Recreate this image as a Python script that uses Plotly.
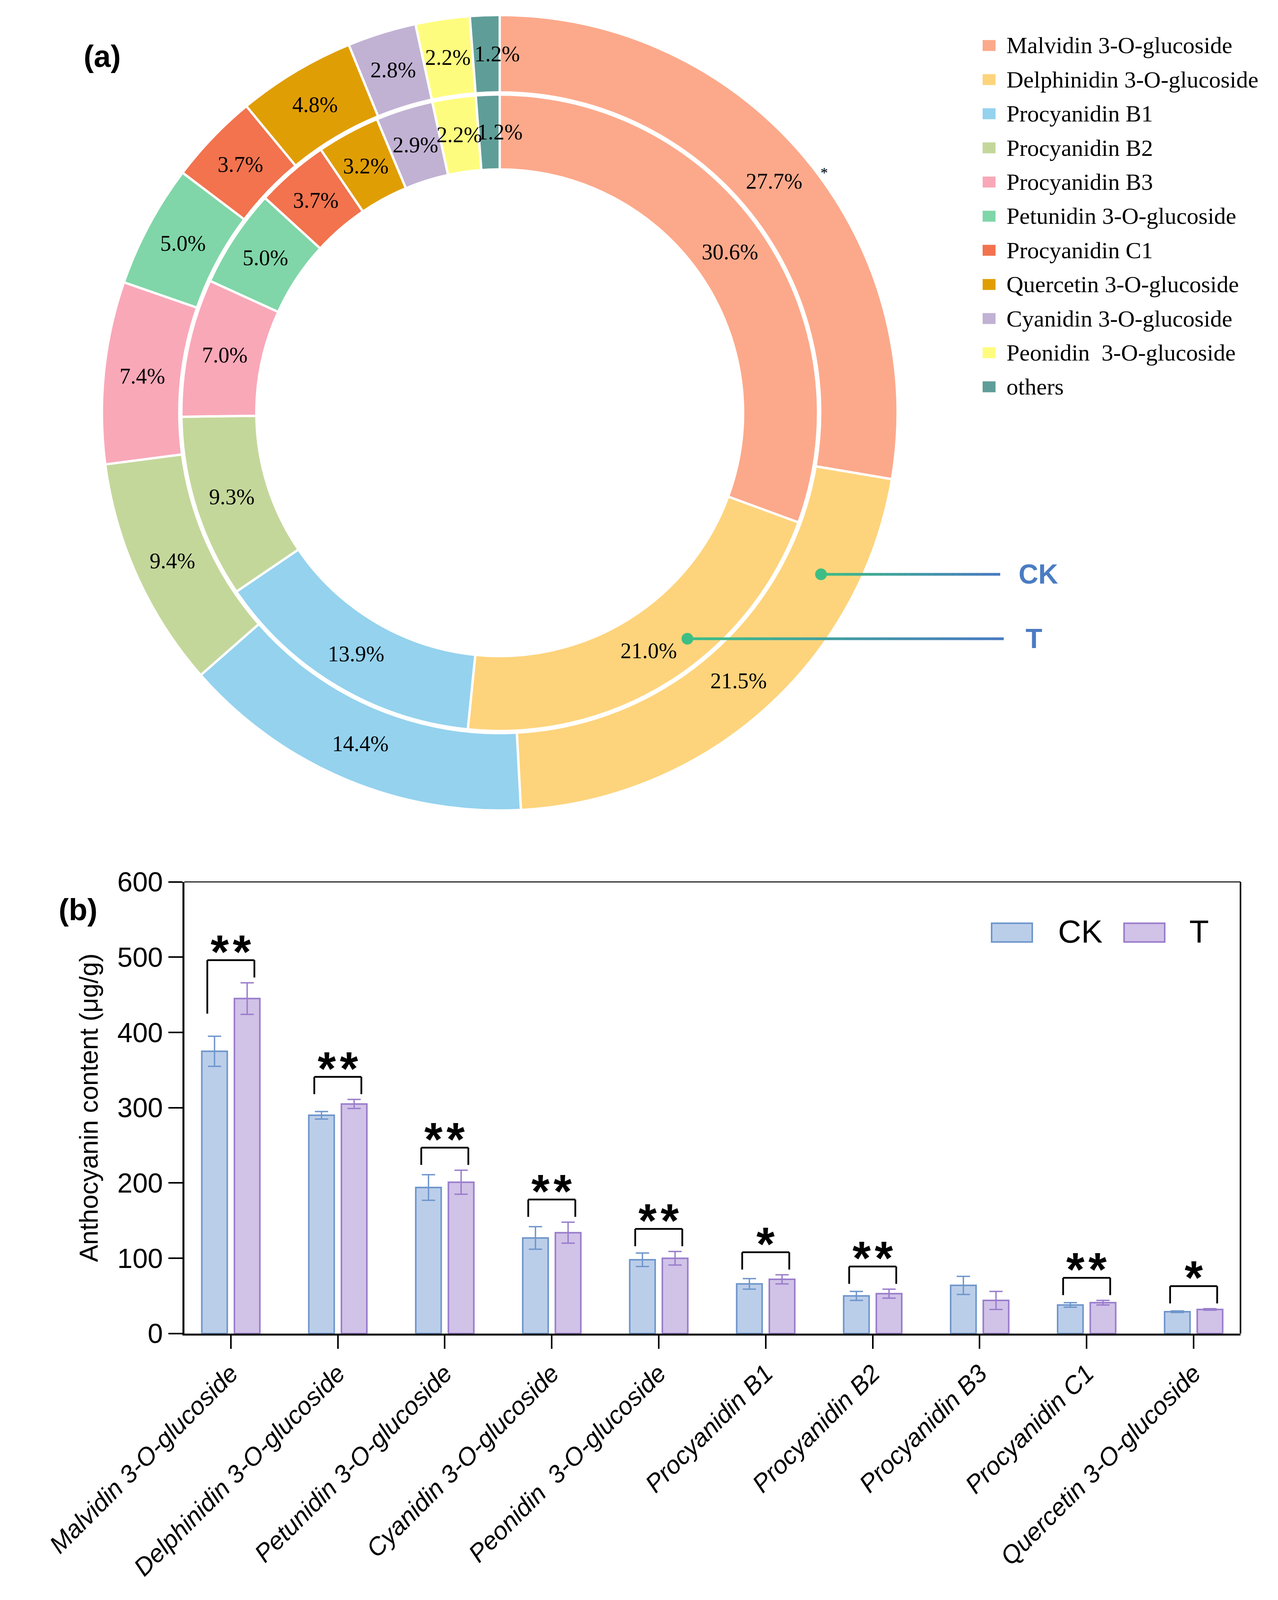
import math
import plotly.graph_objects as go

# The reference is 3271x4570; the visible page area here is ~3271x4096,
# so vertical positions are expressed as fractions of the reference height.
W = 3271
H_REF = 4570
H = 4096
SY = H / H_REF

# ---------------- data ----------------
pie_labels = ["Malvidin 3-O-glucoside", "Delphinidin 3-O-glucoside", "Procyanidin B1",
              "Procyanidin B2", "Procyanidin B3", "Petunidin 3-O-glucoside", "Procyanidin C1",
              "Quercetin 3-O-glucoside", "Cyanidin 3-O-glucoside", "Peonidin\u00a0 3-O-glucoside",
              "others"]
pie_ck = [27.7, 21.5, 14.4, 9.4, 7.4, 5.0, 3.7, 4.8, 2.8, 2.2, 1.2]
pie_t = [30.6, 21.0, 13.9, 9.3, 7.0, 5.0, 3.7, 3.2, 2.9, 2.2, 1.2]
pie_colors = ["#FCA98B", "#FDD47C", "#94D2EE", "#C4D79B", "#F9A8B8", "#80D6A8",
              "#F2734E", "#E09E05", "#C1B2D4", "#FEFC7E", "#5F9E98"]

bar_categories = ["Malvidin 3-O-glucoside", "Delphinidin 3-O-glucoside", "Petunidin 3-O-glucoside",
                  "Cyanidin 3-O-glucoside", "Peonidin\u00a0 3-O-glucoside", "Procyanidin B1",
                  "Procyanidin B2", "Procyanidin B3", "Procyanidin C1", "Quercetin 3-O-glucoside"]
ck_mean = [375, 290, 194, 127, 98, 66, 50, 64, 38, 29]
ck_err = [20, 5, 17, 15, 9, 7, 6, 12, 3, 1]
t_mean = [445, 305, 201, 134, 100, 72, 53, 44, 41, 32]
t_err = [21, 6, 16, 14, 9, 6, 6, 12, 3, 1]
significance = ["**", "**", "**", "**", "**", "*", "**", "", "**", "*"]
series_names = ["CK", "T"]
y_ticks = [0, 100, 200, 300, 400, 500, 600]

# ---------------- helpers ----------------
def px(x):
    return x / W

def py(y_ref):          # y given in reference pixels
    return 1 - y_ref / H_REF

def pya(y_act):         # y given in actual pixels
    return 1 - y_act / H

SERIF = "Liberation Serif, Times New Roman, serif"
SANS = "Liberation Sans, Arial, sans-serif"

fig = go.Figure()
shapes = []
annotations = []

# ---------------- (a) donut ----------------
cx, cy = 1271, 1170 * SY
R_out, r_out_hole = 1136 * SY, 915 * SY
R_in, r_in_hole = 909 * SY, 695 * SY

def add_ring(values, R, r_hole, name):
    fig.add_trace(go.Pie(
        labels=pie_labels, values=values, name=name,
        domain=dict(x=[px(cx - R), px(cx + R)], y=[pya(cy + R), pya(cy - R)]),
        hole=r_hole / R, sort=False, direction="clockwise", rotation=0,
        marker=dict(colors=pie_colors, line=dict(color="white", width=6)),
        textinfo="none", hoverinfo="label+percent", showlegend=False,
    ))
    rm = (R + r_hole) / 2
    cum = 0
    total = sum(values)
    for lab, v in zip(pie_labels, values):
        ang = 2 * math.pi * (cum + v / 2) / total
        cum += v
        x = cx + rm * math.sin(ang)
        y = cy - rm * math.cos(ang)
        annotations.append(dict(
            x=px(x), y=pya(y), xref="paper", yref="paper", showarrow=False,
            text=f"{v:.1f}%", font=dict(family=SERIF, size=56, color="black"),
            xanchor="center", yanchor="middle",
            xshift=28 if lab == "others" else 0,
        ))

add_ring(pie_ck, R_out, r_out_hole, "CK")
add_ring(pie_t, R_in, r_in_hole, "T")

def polar(r, deg):
    a = math.radians(deg)
    return cx + r * math.sin(a), cy - r * math.cos(a)

# stray asterisk near the outer ring
sx_, sy_ = polar(1168 * SY, 52.5)
annotations.append(dict(x=px(sx_), y=pya(sy_), xref="paper", yref="paper", showarrow=False,
                        text="*", font=dict(family=SERIF, size=38, color="black")))

# panel labels
annotations.append(dict(x=px(204), y=py(100), xref="paper", yref="paper", showarrow=False,
                        text="<b>(a)</b>", font=dict(family=SANS, size=78, color="black")))
annotations.append(dict(x=px(140), y=py(2590), xref="paper", yref="paper", showarrow=False,
                        text="<b>(b)</b>", font=dict(family=SANS, size=78, color="black")))

# pie legend
leg_x0, leg_y0, leg_dy = 2507, 121, 97.5
for i, (lab, col) in enumerate(zip(pie_labels, pie_colors)):
    yc = leg_y0 + i * leg_dy
    shapes.append(dict(type="rect", xref="paper", yref="paper",
                       x0=px(leg_x0), x1=px(leg_x0 + 33), y0=py(yc) - 14 / H, y1=py(yc) + 14 / H,
                       fillcolor=col, line=dict(width=0)))
    annotations.append(dict(x=px(2566), y=py(yc), xref="paper", yref="paper", showarrow=False,
                            text=lab, xanchor="left", yanchor="middle",
                            font=dict(family=SERIF, size=60, color="black")))

# CK / T callouts with gradient lines
def callout(r, deg, x_end, x_text, label):
    x0, y = polar(r, deg)
    n = 30
    c0 = (61, 190, 132)
    c1 = (74, 122, 194)
    for k in range(n):
        f = (k + 0.5) / n
        col = tuple(int(c0[j] + (c1[j] - c0[j]) * f) for j in range(3))
        xa = x0 + (x_end - x0) * k / n
        xb = x0 + (x_end - x0) * (k + 1) / n + 1
        shapes.append(dict(type="line", xref="paper", yref="paper",
                           x0=px(xa), x1=px(xb), y0=pya(y), y1=pya(y),
                           line=dict(color="rgb(%d,%d,%d)" % col, width=7)))
    shapes.append(dict(type="circle", xref="paper", yref="paper",
                       x0=px(x0 - 15), x1=px(x0 + 15), y0=pya(y + 15), y1=pya(y - 15),
                       fillcolor="rgb(61,190,132)", line=dict(width=0)))
    annotations.append(dict(x=px(x_text), y=pya(y), xref="paper", yref="paper", showarrow=False,
                            text="<b>" + label + "</b>", xanchor="left", yanchor="middle",
                            font=dict(family=SANS, size=70, color="#4A7CC2")))

callout(1027 * SY, 116.7, 2551, 2597, series_names[0])
callout(839 * SY, 140.3, 2560, 2615, series_names[1])

# ---------------- (b) bar chart ----------------
ck_fill, ck_line = "#BBCEE9", "#6F96CC"
t_fill, t_line = "#D1C2E8", "#9A7DCB"

fig.add_trace(go.Bar(
    x=bar_categories, y=ck_mean, name=series_names[0],
    marker=dict(color=ck_fill, line=dict(color=ck_line, width=4)),
    error_y=dict(type="data", array=ck_err, color=ck_line, thickness=3.5, width=17),
    xaxis="x", yaxis="y", showlegend=False,
))
fig.add_trace(go.Bar(
    x=bar_categories, y=t_mean, name=series_names[1],
    marker=dict(color=t_fill, line=dict(color=t_line, width=4)),
    error_y=dict(type="data", array=t_err, color=t_line, thickness=3.5, width=17),
    xaxis="x", yaxis="y", showlegend=False,
))

# significance brackets
for i, s in enumerate(significance):
    if not s:
        continue
    a_top = ck_mean[i] + ck_err[i]
    b_top = t_mean[i] + t_err[i]
    top = max(a_top, b_top) + 30
    left_bottom = min(top - 23, a_top + 30)
    right_bottom = min(top - 23, b_top + 30)
    xl, xr = i - 0.22, i + 0.22
    for (xa, ya, xb, yb) in [(xl, left_bottom, xl, top), (xl, top, xr, top), (xr, top, xr, right_bottom)]:
        shapes.append(dict(type="line", xref="x", yref="y", x0=xa, y0=ya, x1=xb, y1=yb,
                           line=dict(color="black", width=4.5)))
    annotations.append(dict(x=i, y=top, xref="x", yref="y", showarrow=False, yshift=22,
                            text="<b>" + "\u200a".join(s) + "</b>", xanchor="center", yanchor="middle",
                            font=dict(family=SANS, size=120, color="black")))

# frame top & right
shapes.append(dict(type="line", xref="x domain", yref="y domain", x0=0, x1=1, y0=1, y1=1,
                   line=dict(color="black", width=2.5)))
shapes.append(dict(type="line", xref="x domain", yref="y domain", x0=1, x1=1, y0=0, y1=1,
                   line=dict(color="black", width=4)))

# bar legend
for (xa, xt, name, fc, lc) in [(2530, 2698, series_names[0], ck_fill, ck_line),
                               (2869, 3034, series_names[1], t_fill, t_line)]:
    shapes.append(dict(type="rect", xref="paper", yref="paper",
                       x0=px(xa), x1=px(xa + 104), y0=py(2655) - 24 / H, y1=py(2655) + 24 / H,
                       fillcolor=fc, line=dict(color=lc, width=4)))
    annotations.append(dict(x=px(xt), y=py(2652), xref="paper", yref="paper", showarrow=False,
                            text=name, xanchor="left", yanchor="middle",
                            font=dict(family=SANS, size=82, color="black")))

fig.update_layout(
    width=W, height=H, autosize=False,
    margin=dict(l=0, r=0, t=0, b=0),
    paper_bgcolor="white", plot_bgcolor="white",
    barmode="group", bargap=0.39, bargroupgap=0.22,
    showlegend=False,
    shapes=shapes, annotations=annotations,
    xaxis=dict(domain=[px(464), px(3167)], anchor="y",
               range=[-0.434, 9.438], type="category",
               showline=True, linecolor="black", linewidth=5, mirror=False,
               ticks="outside", ticklen=34, tickwidth=4, tickcolor="black",
               tickangle=-45, automargin=False, showgrid=False, zeroline=False,
               tickfont=dict(family=SANS, size=64, color="black", style="italic")),
    yaxis=dict(domain=[py(3800), py(2510)], anchor="x",
               range=[0, 600], tickvals=y_ticks,
               showline=True, linecolor="black", linewidth=5, mirror=False,
               ticks="outside", ticklen=36, tickwidth=4, tickcolor="black",
               automargin=False, showgrid=False, zeroline=False,
               tickfont=dict(family=SANS, size=70, color="black"),
               title=dict(text="Anthocyanin content (μg/g)", standoff=30,
                          font=dict(family=SANS, size=66, color="black"))),
)

fig.write_html("out.html")
